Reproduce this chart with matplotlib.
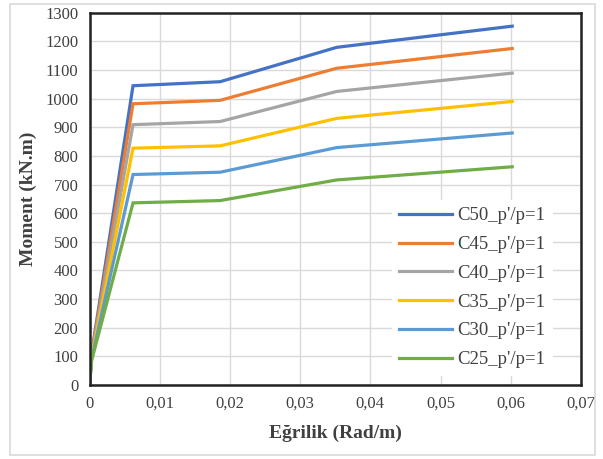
import matplotlib
matplotlib.use("Agg")
import matplotlib.pyplot as plt
from matplotlib.patches import Rectangle

curvature = [0, 0.0003, 0.0062, 0.0186, 0.0352, 0.0602]
series_names = ["C50_p'/p=1", "C45_p'/p=1", "C40_p'/p=1", "C35_p'/p=1", "C30_p'/p=1", "C25_p'/p=1"]
c50 = [0, 110, 1045, 1059, 1179, 1253]
c45 = [0, 105, 982, 994, 1106, 1175]
c40 = [0, 100, 909, 920, 1025, 1089]
c35 = [0, 95, 827, 835, 931, 990]
c30 = [0, 90, 735, 743, 829, 880]
c25 = [0, 85, 636, 644, 716, 762]
colors = ["#4472C4", "#ED7D31", "#A5A5A5", "#FFC000", "#5B9BD5", "#70AD47"]
xticks = [0, 0.01, 0.02, 0.03, 0.04, 0.05, 0.06, 0.07]
xticklabels = ["0", "0,01", "0,02", "0,03", "0,04", "0,05", "0,06", "0,07"]
yticks = list(range(0, 1301, 100))

plt.rcParams['font.family'] = ['Liberation Serif', 'DejaVu Serif']

W, H = 603, 459
fig = plt.figure(figsize=(W/100, H/100), dpi=100)
# chart area border
fig.patches.append(Rectangle((10/W, 4/H), 585/W, 451/H, transform=fig.transFigure,
                             fill=False, edgecolor="#D9D9D9", lw=1.2))
ax = fig.add_axes([89.5/W, 1 - 385/H, (581-89.5)/W, (385-12.7)/H])

for vals, name, col in zip([c50, c45, c40, c35, c30, c25], series_names, colors):
    ax.plot(curvature, vals, color=col, lw=2.3, label=name, solid_joinstyle='miter')

ax.set_xlim(0, 0.07)
ax.set_ylim(0, 1300)
ax.set_xticks(xticks)
ax.set_xticklabels(xticklabels)
ax.set_yticks(yticks)
ax.grid(True, color="#D9D9D9", lw=1.0)
ax.set_axisbelow(True)
ax.tick_params(length=0, labelsize=12, pad=8, colors="#404040")
for sp in ax.spines.values():
    sp.set_linewidth(1.8)
    sp.set_color("#222222")

ax.set_xlabel("Eğrilik (Rad/m)", fontsize=14, fontweight='bold', color="#404040", labelpad=9)
ax.set_ylabel("Moment (kN.m)", fontsize=14, fontweight='bold', color="#404040", labelpad=6)

leg = ax.legend(loc='lower right', bbox_to_anchor=(0.962, 0.0), fontsize=13.5,
                frameon=True, fancybox=False, edgecolor='none', framealpha=1,
                handlelength=2.8, labelspacing=0.62, borderpad=0.4, handletextpad=0.3)
for t in leg.get_texts():
    t.set_color("#404040")

fig.savefig("out.png", dpi=100)
